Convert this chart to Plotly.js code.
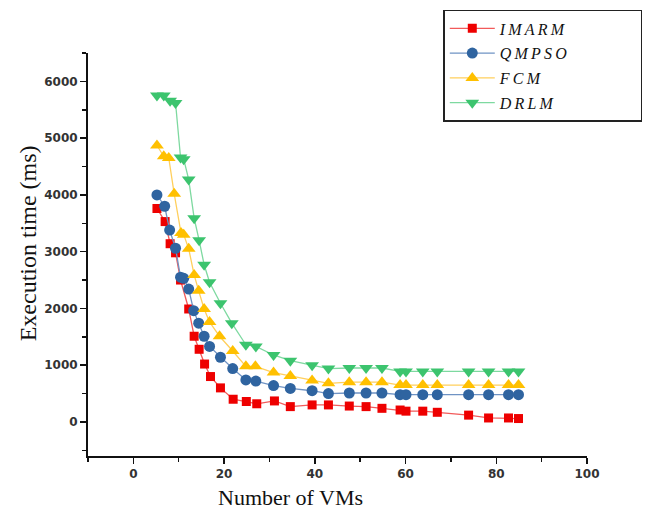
<!DOCTYPE html>
<html>
<head>
<meta charset="utf-8">
<script src="https://cdn.plot.ly/plotly-3.0.1.min.js"></script>
<style>html,body{margin:0;padding:0;background:#fff}#chart{width:645px;height:511px}</style>
</head>
<body>
<div id="chart"></div>
<script>
// Series names
const seriesNames = ["IMARM", "QMPSO", "FCM", "DRLM"];

// IMARM (red squares)
const imarmX = [5.2, 7.0, 8.1, 9.3, 10.4, 12.2, 13.4, 14.5, 15.7, 17.0, 19.2, 22.0, 24.9, 27.2, 31.1, 34.6, 39.4, 43.0, 47.6, 51.3, 54.8, 58.8, 60.1, 63.8, 67.0, 73.9, 78.3, 82.7, 84.9];
const imarmY = [3760, 3530, 3140, 2980, 2500, 1990, 1510, 1280, 1020, 800, 600, 400, 360, 320, 370, 270, 300, 300, 280, 270, 240, 210, 190, 190, 170, 120, 70, 70, 60];

// QMPSO (blue circles)
const qmpsoX = [5.2, 6.9, 8.0, 9.3, 10.4, 11.1, 12.2, 13.3, 14.4, 15.6, 16.8, 19.2, 21.9, 24.8, 27.0, 30.9, 34.6, 39.4, 43.0, 47.6, 51.3, 54.8, 58.8, 60.1, 63.8, 67.0, 73.9, 78.3, 82.7, 84.9];
const qmpsoY = [4000, 3800, 3380, 3060, 2550, 2530, 2340, 1960, 1740, 1510, 1330, 1140, 940, 740, 720, 640, 590, 550, 500, 510, 510, 510, 480, 480, 480, 480, 480, 480, 480, 480];

// FCM (yellow up-triangles)
const fcmX = [5.2, 6.7, 7.8, 9.0, 10.5, 11.1, 12.2, 13.4, 14.4, 15.6, 16.8, 19.0, 21.9, 24.8, 26.9, 30.9, 34.6, 39.4, 43.0, 47.6, 51.3, 54.8, 58.8, 60.1, 63.8, 67.0, 73.9, 78.3, 82.7, 84.9];
const fcmY = [4870, 4680, 4650, 4020, 3330, 3300, 3050, 2590, 2310, 1990, 1760, 1510, 1250, 980, 980, 870, 810, 730, 680, 700, 700, 700, 650, 650, 650, 650, 650, 650, 650, 650];

// DRLM (green down-triangles)
const drlmX = [5.2, 6.7, 8.1, 9.3, 10.4, 11.1, 12.2, 13.4, 14.5, 15.6, 16.8, 19.2, 21.7, 24.8, 27.0, 30.9, 34.6, 39.4, 43.0, 47.6, 51.3, 54.8, 58.8, 60.1, 63.8, 67.0, 73.9, 78.3, 82.7, 84.9];
const drlmY = [5750, 5750, 5660, 5620, 4660, 4630, 4270, 3590, 3200, 2770, 2460, 2090, 1740, 1360, 1330, 1180, 1080, 1000, 940, 950, 950, 950, 890, 890, 890, 890, 890, 890, 890, 890];

// Tick labels
const xTicks = [0, 20, 40, 60, 80, 100];
const yTicks = [0, 1000, 2000, 3000, 4000, 5000, 6000];

const lineColors = ["#f25a5a", "#6f93c4", "#ffcf5c", "#7ed9a0"];
const markerColors = ["#ee0000", "#2f64a0", "#ffc000", "#3cc46e"];
const symbols = ["square", "circle", "triangle-up", "triangle-down"];
const sizes = [9, 11, 12, 12];
const xs = [imarmX, qmpsoX, fcmX, drlmX];
const ys = [imarmY, qmpsoY, fcmY, drlmY];

const pad = "\u00a0".repeat(17);
const spaced = s => s.split("").join("\u2009") + pad;

const traces = seriesNames.map((n, i) => ({
  type: "scatter",
  mode: "lines+markers",
  name: spaced(n),
  legendgroup: "g" + i,
  x: xs[i],
  y: ys[i],
  line: {color: lineColors[i], width: 1.3},
  marker: {color: markerColors[i], symbol: symbols[i], size: sizes[i], line: {width: 0}}
}));

const tickFont = {family: "DejaVu Sans", size: 12, color: "#333", weight: "bold"};
const titleFont = {family: "Liberation Serif", color: "#111"};

const layout = {
  width: 645, height: 511,
  margin: {l: 88, r: 58, t: 53, b: 55, autoexpand: false},
  paper_bgcolor: "#fff", plot_bgcolor: "#fff",
  showlegend: true,
  legend: {
    x: 0.712, y: 1.107, xanchor: "left", yanchor: "top",
    bordercolor: "#222", borderwidth: 1.5, bgcolor: "#fff",
    font: {family: "Liberation Serif", size: 16, style: "italic", color: "#111"},
    itemwidth: 45, tracegroupgap: 1
  },
  xaxis: {
    range: [-10, 100], tickvals: xTicks,
    showgrid: false, zeroline: false, showline: true, linecolor: "#111", linewidth: 2,
    ticks: "outside", ticklen: 6, tickwidth: 1.5, tickcolor: "#111",
    minor: {dtick: 10, tick0: 0, ticks: "outside", ticklen: 4, tickcolor: "#111", tickwidth: 1.5, showgrid: false},
    tickfont: tickFont
  },
  yaxis: {
    range: [-600, 6500], tickvals: yTicks,
    showgrid: false, zeroline: false, showline: true, linecolor: "#111", linewidth: 2,
    ticks: "outside", ticklen: 6, tickwidth: 1.5, tickcolor: "#111",
    minor: {dtick: 500, tick0: 0, ticks: "outside", ticklen: 4, tickcolor: "#111", tickwidth: 1.5, showgrid: false},
    tickfont: tickFont
  },
  annotations: [
    {text: "Number of VMs", xref: "paper", yref: "paper", x: 0.405, y: -0.102,
     xanchor: "center", yanchor: "middle", showarrow: false,
     font: Object.assign({size: 22}, titleFont)},
    {text: "Execution time (ms)", xref: "paper", yref: "paper", x: -0.12, y: 0.528,
     xanchor: "center", yanchor: "middle", showarrow: false, textangle: -90,
     font: Object.assign({size: 24}, titleFont)}
  ]
};

Plotly.newPlot("chart", traces, layout, {displayModeBar: false, staticPlot: true});
</script>
</body>
</html>
